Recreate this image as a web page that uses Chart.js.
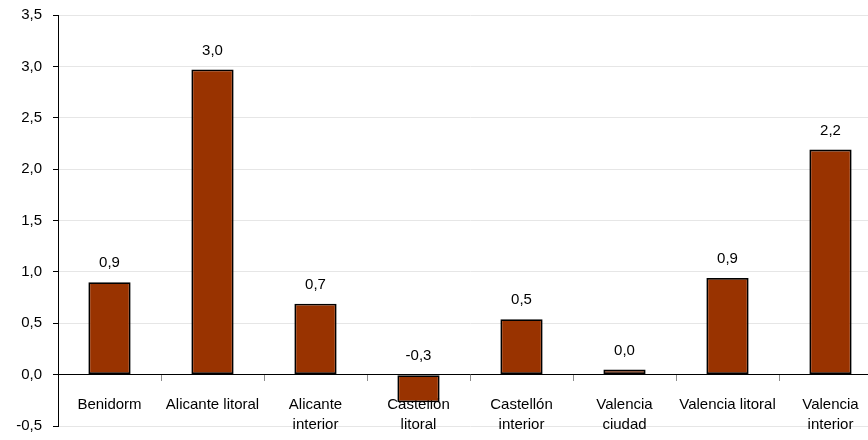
<!DOCTYPE html>
<html>
<head>
<meta charset="utf-8">
<script src="https://cdn.jsdelivr.net/npm/chart.js@4"></script>
<style>
  html, body { margin: 0; padding: 0; background: #fff; overflow: hidden; }
</style>
</head>
<body>
<canvas id="chart" width="882" height="440"></canvas>
<script>
// zonas y variación (lectura del gráfico)
const zonas = [
  'Benidorm',
  'Alicante litoral',
  ['Alicante', 'interior'],
  ['Castellón', 'litoral'],
  ['Castellón', 'interior'],
  ['Valencia', 'ciudad'],
  'Valencia litoral',
  ['Valencia', 'interior']
];
const variacion = [0.90, 2.97, 0.69, -0.27, 0.54, 0.049, 0.94, 2.19];

const yMin = -0.5;
const yMax = 3.5;
const yStep = 0.5;

const fmt = v => Number(v).toFixed(1).replace('.', ',');

// etiquetas de valor encima de cada barra
const valueLabels = {
  id: 'valueLabels',
  afterDatasetsDraw(chart) {
    const ctx = chart.ctx;
    const meta = chart.getDatasetMeta(0);
    ctx.save();
    ctx.font = '15px "Liberation Sans", Arial, sans-serif';
    ctx.fillStyle = '#000';
    ctx.textAlign = 'center';
    ctx.textBaseline = 'middle';
    meta.data.forEach((bar, i) => {
      const top = Math.min(bar.y, bar.base);
      ctx.fillText(fmt(variacion[i]), bar.x, top - 19);
    });
    ctx.restore();
  }
};

Chart.defaults.font.family = '"Liberation Sans", Arial, sans-serif';
Chart.defaults.font.size = 15;
Chart.defaults.color = '#000';

const ctx = document.getElementById('chart');

new Chart(ctx, {
  type: 'bar',
  data: {
    labels: zonas,
    datasets: [{
      data: variacion,
      backgroundColor: '#993300',
      borderColor: '#000',
      borderWidth: 1.8,
      borderSkipped: false,
      barPercentage: 0.41,
      categoryPercentage: 1
    }]
  },
  options: {
    responsive: false,
    animation: false,
    devicePixelRatio: 1,
    layout: { padding: { top: 15, bottom: 14, left: 0, right: 0 } },
    plugins: {
      legend: { display: false },
      tooltip: { enabled: false }
    },
    scales: {
      x: {
        position: { y: 0 },
        afterFit: scale => {
          scale.height = 0;
          scale.paddingLeft = 0;
          scale.paddingRight = 0;
        },
        grid: {
          drawOnChartArea: false,
          drawTicks: true,
          tickLength: 6,
          color: '#8c8c8c'
        },
        border: { color: '#000', width: 1 },
        ticks: {
          padding: 14,
          maxRotation: 0,
          autoSkip: false,
          font: { size: 15, lineHeight: 1.35 }
        }
      },
      y: {
        min: yMin,
        max: yMax,
        afterFit: scale => {
          scale.width = 58;
          scale.paddingTop = 0;
          scale.paddingBottom = 0;
        },
        grid: {
          color: '#e6e6e6',
          tickColor: '#000',
          tickLength: 5
        },
        border: { color: '#000', width: 1 },
        ticks: {
          stepSize: yStep,
          padding: 11,
          callback: v => fmt(v)
        }
      }
    }
  },
  plugins: [valueLabels]
});
</script>
</body>
</html>
